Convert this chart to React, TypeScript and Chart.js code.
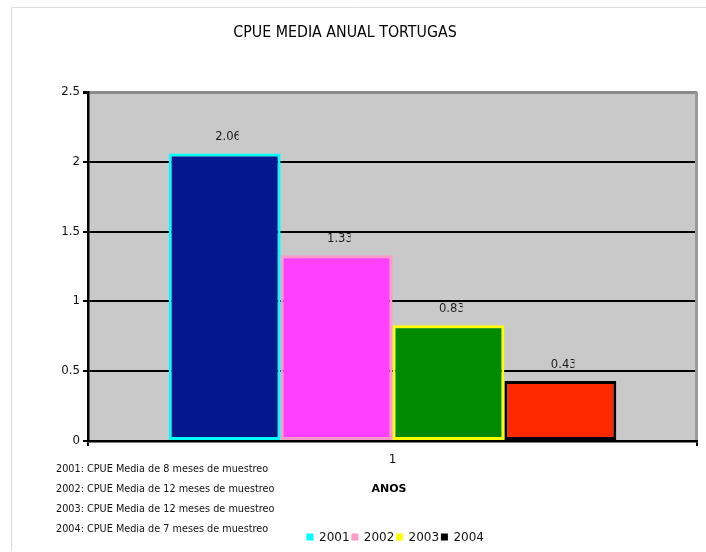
import React, { useEffect, useRef } from "react";
import { Chart, registerables } from "chart.js";

Chart.register(...registerables);

const categories = ["1"];
const seriesNames = ["2001", "2002", "2003", "2004"];
const seriesValues = [[2.06], [1.33], [0.83], [0.43]];
const fillColors = ["#03188f", "#ff40ff", "#008a00", "#ff2a00"];
const borderColors = ["#00ffff", "#ff99cc", "#ffff00", "#000000"];
const yTicks = [0, 0.5, 1, 1.5, 2, 2.5];
const notes = [
  "2001: CPUE Media de 8 meses de muestreo",
  "2002: CPUE Media de 12 meses de muestreo",
  "2003: CPUE Media de 12 meses de muestreo",
  "2004: CPUE Media de 7 meses de muestreo",
];
const titleText = "CPUE MEDIA ANUAL TORTUGAS";
const xTitle = "ANOS";

const FONT = "'DejaVu Sans', sans-serif";

const decorPlugin = {
  id: "decor",
  beforeDraw(chart: any) {
    const { ctx, chartArea } = chart;
    ctx.save();
    ctx.fillStyle = "#ffffff";
    ctx.fillRect(0, 0, chart.width, chart.height);
    // outer frame
    ctx.strokeStyle = "#dcdcdc";
    ctx.lineWidth = 1;
    ctx.beginPath();
    ctx.moveTo(11.5, 551);
    ctx.lineTo(11.5, 7.5);
    ctx.lineTo(706, 7.5);
    ctx.stroke();
    // plot background
    ctx.fillStyle = "#c9c9c9";
    ctx.fillRect(
      chartArea.left,
      chartArea.top,
      chartArea.right - chartArea.left,
      chartArea.bottom - chartArea.top
    );
    ctx.restore();
  },
  afterDraw(chart: any) {
    const { ctx, chartArea } = chart;
    ctx.save();
    // right border
    ctx.strokeStyle = "#9a9a9a";
    ctx.lineWidth = 3;
    ctx.beginPath();
    ctx.moveTo(chartArea.right - 0.5, chartArea.top);
    ctx.lineTo(chartArea.right - 0.5, chartArea.bottom - 1);
    ctx.stroke();

    // title
    ctx.fillStyle = "#000000";
    ctx.textAlign = "center";
    ctx.textBaseline = "middle";
    ctx.font = "15.8px 'DejaVu Sans Condensed', 'DejaVu Sans', sans-serif";
    ctx.fillText(titleText, 345, 33);

    // x axis title
    ctx.font = "bold 11px " + FONT;
    ctx.fillText(xTitle, 389, 489);

    // notes
    ctx.textAlign = "left";
    ctx.font = "9.7px " + FONT;
    ctx.fillStyle = "#111111";
    notes.forEach((t, i) => ctx.fillText(t, 56, 469.5 + i * 20));

    // legend
    ctx.font = "12px " + FONT;
    chart.data.datasets.forEach((ds: any, i: number) => {
      const x = 306.5 + i * 44.8;
      ctx.fillStyle = ds.borderColor;
      ctx.fillRect(x, 533.5, 7, 7);
      ctx.fillStyle = "#111111";
      ctx.fillText(ds.label, x + 12.5, 538);
    });

    // data labels (clipped like the original)
    ctx.font = "11.6px " + FONT;
    ctx.fillStyle = "#1a1a1a";
    chart.data.datasets.forEach((ds: any, i: number) => {
      const meta = chart.getDatasetMeta(i);
      meta.data.forEach((bar: any, j: number) => {
        const v = ds.data[j];
        const tx = bar.x - 9.5;
        const ty = bar.y - 16;
        ctx.save();
        ctx.beginPath();
        ctx.rect(tx, ty - 10, 23.5, 20);
        ctx.clip();
        ctx.fillText(String(v), tx, ty);
        ctx.restore();
      });
    });
    ctx.restore();
  },
};

export default function App() {
  const ref = useRef<HTMLCanvasElement | null>(null);
  useEffect(() => {
    if (!ref.current) return;
    const chart = new Chart(ref.current, {
      type: "bar",
      data: {
        labels: categories,
        datasets: seriesNames.map((name, i) => ({
          label: name,
          data: seriesValues[i],
          backgroundColor: fillColors[i],
          borderColor: borderColors[i],
          borderWidth: 3,
          borderSkipped: false,
          barPercentage: 1,
          categoryPercentage: 0.735,
        })),
      },
      options: {
        responsive: false,
        animation: false,
        devicePixelRatio: 1,
        layout: { padding: { top: 92, right: 9, left: 0, bottom: 0 } },
        plugins: {
          legend: { display: false },
          title: { display: false },
          tooltip: { enabled: false },
        },
        scales: {
          x: {
            type: "category",
            afterFit: (s: any) => {
              s.height = 111;
            },
            grid: {
              offset: true,
              drawOnChartArea: false,
              drawTicks: true,
              tickLength: 5,
              color: "#000000",
              lineWidth: 2,
            },
            border: { display: true, color: "#000000", width: 2.5 },
            ticks: {
              color: "#111111",
              font: { family: FONT, size: 12 },
              padding: 7,
            },
          },
          y: {
            min: 0,
            max: 2.5,
            afterFit: (s: any) => {
              s.width = 88;
            },
            afterBuildTicks: (s: any) => {
              s.ticks = yTicks.map((v) => ({ value: v }));
            },
            grid: {
              color: (c: any) =>
                c.tick && c.tick.value === 2.5 ? "#8a8a8a" : "#000000",
              tickColor: "#000000",
              lineWidth: (c: any) => (c.tick && c.tick.value === 2.5 ? 3 : 2),
              tickLength: 5,
              drawTicks: true,
            },
            border: { display: true, color: "#000000", width: 2.5 },
            ticks: {
              color: "#111111",
              font: { family: FONT, size: 11.8 },
              padding: 3,
              callback: (v: any) => String(v),
            },
          },
        },
      },
      plugins: [decorPlugin],
    });
    return () => chart.destroy();
  }, []);
  return (
    <div style={{ position: "fixed", left: 0, top: 0, width: 706, height: 552 }}>
      <canvas ref={ref} width={706} height={552} style={{ display: "block" }} />
    </div>
  );
}
